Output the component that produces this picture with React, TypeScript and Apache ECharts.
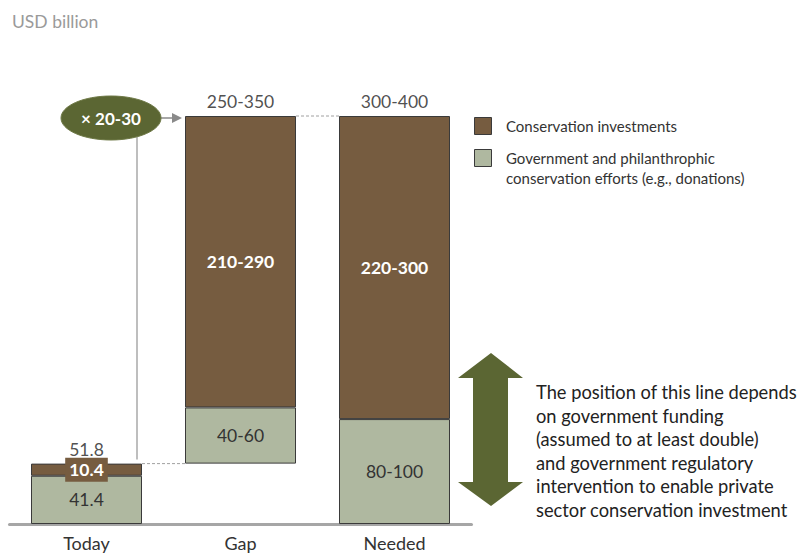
import React, { useEffect, useRef } from "react";
import * as echarts from "echarts";

const categories = ["Today", "Gap", "Needed"];
const baseValues = [0, 51.8, 0];
const govValues = [41.4, 48.2, 90];
const investValues = [10.4, 250, 260];
const govLabels = ["41.4", "40-60", "80-100"];
const investLabels = ["10.4", "210-290", "220-300"];
const totalValues = [51.8, 350, 350];
const totalLabels = ["51.8", "250-350", "300-400"];
const multiplierLabel = "× 20-30";
const investName = "Conservation investments";
const govName = "Government and philanthrophic conservation efforts (e.g., donations)";
const legendLines = [
  ["Conservation investments"],
  ["Government and philanthrophic", "conservation efforts (e.g., donations)"],
];
const noteLines = [
  "The position of this line depends",
  "on government funding",
  "(assumed to at least double)",
  "and government regulatory",
  "intervention to enable private",
  "sector conservation investment",
];

const BROWN = "#765C40";
const GREEN = "#AFB8A0";
const OLIVE = "#5B6633";
const FONT = "Lato";
const BAR_W = 111;

export default function App() {
  const ref = useRef<HTMLDivElement>(null);
  useEffect(() => {
    document.body.style.margin = "0";
    const chart = echarts.init(ref.current!, null, { renderer: "svg" });
    const border = { borderColor: "#3a3a3a", borderWidth: 1 };
    chart.setOption({
      animation: false,
      textStyle: { fontFamily: FONT },
      grid: { left: 9.5, right: 329.5, top: 116, bottom: 32 },
      xAxis: {
        type: "category",
        data: categories,
        axisLine: { lineStyle: { color: "#a6a6a6", width: 3 } },
        axisTick: { show: false },
        axisLabel: { fontSize: 18, lineHeight: 18, color: "#333", margin: 10, fontFamily: FONT },
      },
      yAxis: { type: "value", min: 0, max: 350, show: false },
      series: [
        {
          type: "bar",
          name: "base",
          stack: "s",
          barWidth: BAR_W,
          silent: true,
          itemStyle: { color: "rgba(0,0,0,0)", borderWidth: 0 },
          data: baseValues,
        },
        {
          type: "bar",
          name: govName,
          stack: "s",
          barWidth: BAR_W,
          itemStyle: { color: GREEN, ...border },
          label: {
            show: true,
            position: "inside",
            color: "#333",
            fontSize: 17.5,
            fontFamily: FONT,
            formatter: (p: any) => govLabels[p.dataIndex],
          },
          data: govValues,
        },
        {
          type: "bar",
          name: investName,
          stack: "s",
          barWidth: BAR_W,
          itemStyle: { color: BROWN, ...border },
          label: {
            show: true,
            position: "inside",
            color: "#fff",
            fontWeight: "bold",
            fontSize: 17.5,
            fontFamily: FONT,
            formatter: (p: any) => investLabels[p.dataIndex],
          },
          data: investValues.map((v, i) =>
            i === 0
              ? { value: v, label: { backgroundColor: BROWN, padding: [3, 4, 3, 4] } }
              : v
          ),
        },
        {
          type: "scatter",
          name: "total",
          symbolSize: 1,
          silent: true,
          itemStyle: { color: "rgba(0,0,0,0)" },
          label: {
            show: true,
            position: "top",
            distance: 5,
            color: "#222",
            fontSize: 17.5,
            fontFamily: FONT,
            formatter: (p: any) => totalLabels[p.dataIndex],
          },
          data: totalValues,
        },
      ],
    });

    const px = (i: number, v: number) => chart.convertToPixel({ gridIndex: 0 }, [i, v]) as number[];
    const half = BAR_W / 2;
    const [tX, tTop] = px(0, totalValues[0]);
    const [gX, gTop] = px(1, totalValues[1]);
    const [gX2, gBot] = px(1, baseValues[1]);
    const [nX] = px(2, totalValues[2]);
    const ecx = 111, ecy = 118, erx = 50, ery = 22;
    const vx = tX + half - 5;
    const vyTop = ecy + ery * Math.sqrt(1 - Math.pow((vx - ecx) / erx, 2));
    const arrowEnd = gX - half - 3;
    const dash = { stroke: "#a0a0a0", lineWidth: 1, lineDash: [3, 2] };
    const legendColors = [BROWN, GREEN];
    const legendTops = [117, 149];
    const legendGraphics: any[] = [];
    legendLines.forEach((lines, k) => {
      legendGraphics.push({
        type: "rect",
        shape: { x: 474.5, y: legendTops[k] + 0.5, width: 17, height: 17 },
        style: { fill: legendColors[k], stroke: "#3a3a3a", lineWidth: 1 },
      });
      legendGraphics.push({
        type: "text",
        x: 506,
        y: legendTops[k] + 9 - 10,
        style: {
          text: lines.join("\n"),
          fill: "#333",
          font: `15px ${FONT}`,
          lineHeight: 20,
          verticalAlign: "top",
        },
      });
    });

    chart.setOption({
      graphic: [
        {
          type: "text",
          x: 12,
          y: 21,
          style: { text: "USD billion", fill: "#9a9a9a", font: `17.5px ${FONT}`, verticalAlign: "middle" },
        },
        ...legendGraphics,
        {
          type: "line",
          shape: { x1: tX + half, y1: gBot, x2: gX2 - half, y2: gBot },
          style: dash,
        },
        {
          type: "line",
          shape: { x1: gX + half, y1: gTop, x2: nX - half, y2: gTop },
          style: dash,
        },
        {
          type: "line",
          shape: { x1: vx, y1: vyTop, x2: vx, y2: tTop - 4 },
          style: { stroke: "#a8a8a8", lineWidth: 1.5 },
        },
        {
          type: "line",
          shape: { x1: ecx + erx, y1: ecy, x2: arrowEnd - 8, y2: ecy },
          style: { stroke: "#8a8a8a", lineWidth: 1.5 },
        },
        {
          type: "polygon",
          shape: { points: [[arrowEnd - 10, ecy - 5], [arrowEnd, ecy], [arrowEnd - 10, ecy + 5]] },
          style: { fill: "#8a8a8a" },
        },
        {
          type: "ellipse",
          shape: { cx: ecx, cy: ecy, rx: erx, ry: ery },
          style: { fill: OLIVE, stroke: "#6d7845", lineWidth: 1 },
        },
        {
          type: "text",
          x: ecx,
          y: ecy,
          style: {
            text: multiplierLabel,
            fill: "#fff",
            font: `bold 17px ${FONT}`,
            align: "center",
            verticalAlign: "middle",
          },
        },
        {
          type: "polygon",
          shape: {
            points: [
              [491, 353], [523, 378], [508, 378], [508, 482], [523, 482],
              [491, 506], [458, 482], [473, 482], [473, 378], [458, 378],
            ],
          },
          style: { fill: OLIVE },
        },
        {
          type: "text",
          x: 536,
          y: 380.2,
          style: {
            text: noteLines.join("\n"),
            fill: "#222",
            font: `18.3px ${FONT}`,
            lineHeight: 23.6,
            verticalAlign: "top",
          },
        },
      ],
    });
    return () => chart.dispose();
  }, []);
  return <div ref={ref} style={{ width: 801, height: 556 }} />;
}
